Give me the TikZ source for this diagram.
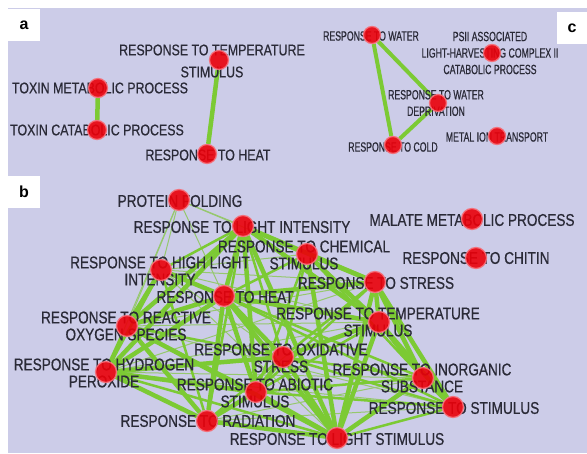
\documentclass[tikz,border=0pt]{standalone}
\usepackage{fontspec}
\setmainfont{Liberation Sans}
\newfontfamily\lblfont[FakeStretch=0.8,FakeBold=0.6]{Liberation Sans}
\newfontfamily\smlfont[FakeStretch=0.65,FakeBold=0.6]{Liberation Sans}
\usetikzlibrary{positioning}
\definecolor{bgcol}{RGB}{204,204,232}
\definecolor{edgecol}{RGB}{124,202,52}
\definecolor{thincol}{RGB}{150,200,110}
\definecolor{dotred}{RGB}{235,0,10}
\definecolor{dotring}{RGB}{246,110,120}
\definecolor{txtcol}{RGB}{42,42,55}
\pgfdeclarelayer{back}
\pgfdeclarelayer{bg}
\pgfsetlayers{back,bg,main}

\begin{document}
\begin{tikzpicture}[
        x=1pt, y=-1pt,
        dot/.style = {circle, fill=dotred, draw=dotring, line width=1.3pt, minimum size=#1, inner sep=0pt, opacity=0.9},
        lbla/.style = {font=\lblfont\fontsize{15.5}{22}\selectfont, text=txtcol, align=center, inner sep=0pt},
        lblb/.style = {font=\lblfont\fontsize{17}{17}\selectfont, text=txtcol, align=center, inner sep=0pt},
        lblc/.style = {font=\smlfont\fontsize{13.4}{16.5}\selectfont, text=txtcol, align=center, inner sep=0pt},
        tag/.style = {fill=white, font=\bfseries\fontsize{16}{16}\selectfont, minimum width=32, minimum height=32, inner sep=0pt},
        heavy/.style = {draw=edgecol, line width=4.5},
        medium/.style = {draw=edgecol, line width=2.5},
        light/.style = {draw=thincol, line width=1}
        ]
        \begin{pgfonlayer}{back}
            \fill[white] (0,0) rectangle (587,453);
            \fill[bgcol] (8,8) rectangle (587,453);
        \end{pgfonlayer}

        % panel labels
        \node[tag] (tagA) at (24,25) {a};
        \node[tag] (tagB) at (24,192) {b};
        \node[tag, minimum width=30] (tagC) at (572,28) {c};

        % a
        \node[lbla] (toxMet-t) at (100,88) {TOXIN METABOLIC PROCESS};
        \node[lbla] (toxCat-t) at (97,130) {TOXIN CATABOLIC PROCESS};
        \node[lbla] (tempA-t) at (212,61) {RESPONSE TO TEMPERATURE\\STIMULUS};
        \node[lbla] (heatA-t) at (208,155) {RESPONSE TO HEAT};
        \node[dot=19] (toxMet) at (98,88) {};
        \node[dot=19] (toxCat) at (97,130) {};
        \node[dot=19] (tempA) at (219,60) {};
        \node[dot=19] (heatA) at (207,154) {};

        % c
        \node[lblc] (water-t) at (371,36) {RESPONSE TO WATER};
        \node[lblc] (psii-t) at (490,53) {PSII ASSOCIATED\\LIGHT-HARVESTING COMPLEX II\\CATABOLIC PROCESS};
        \node[lblc] (waterDep-t) at (436,103) {RESPONSE TO WATER\\DEPRIVATION};
        \node[lblc] (cold-t) at (393,147) {RESPONSE TO COLD};
        \node[lblc] (metalIon-t) at (497,137) {METAL ION TRANSPORT};
        \node[dot=17] (water) at (372,35) {};
        \node[dot=17] (psii) at (492,53) {};
        \node[dot=17] (waterDep) at (438,103) {};
        \node[dot=17] (cold) at (393,145) {};
        \node[dot=17] (metalIon) at (497,136) {};

        % b
        \node[lblb] (folding-t) at (180,201) {PROTEIN FOLDING};
        \node[lblb] (lightInt-t) at (242,227) {RESPONSE TO LIGHT INTENSITY};
        \node[lblb] (chemical-t) at (304,255) {RESPONSE TO CHEMICAL\\STIMULUS};
        \node[lblb] (highLight-t) at (160,271) {RESPONSE TO HIGH LIGHT\\INTENSITY};
        \node[lblb] (heat-t) at (225,297) {RESPONSE TO HEAT};
        \node[lblb] (stress-t) at (376,283) {RESPONSE TO STRESS};
        \node[lblb] (malate-t) at (472,220) {MALATE METABOLIC PROCESS};
        \node[lblb] (chitin-t) at (476,258) {RESPONSE TO CHITIN};
        \node[lblb] (ros-t) at (126,326) {RESPONSE TO REACTIVE\\OXYGEN SPECIES};
        \node[lblb] (temp-t) at (378,322) {RESPONSE TO TEMPERATURE\\STIMULUS};
        \node[lblb] (oxidative-t) at (281,358) {RESPONSE TO OXIDATIVE\\STRESS};
        \node[lblb] (peroxide-t) at (104,373) {RESPONSE TO HYDROGEN\\PEROXIDE};
        \node[lblb] (inorganic-t) at (422,378) {RESPONSE TO INORGANIC\\SUBSTANCE};
        \node[lblb] (abiotic-t) at (255,393) {RESPONSE TO ABIOTIC\\STIMULUS};
        \node[lblb] (stimulus-t) at (454,408) {RESPONSE TO STIMULUS};
        \node[lblb] (radiation-t) at (208,421) {RESPONSE TO RADIATION};
        \node[lblb] (lightStim-t) at (337,439) {RESPONSE TO LIGHT STIMULUS};
        \node[dot=21] (folding) at (179,200) {};
        \node[dot=21] (lightInt) at (243,226) {};
        \node[dot=21] (chemical) at (307,254) {};
        \node[dot=21] (highLight) at (161,270) {};
        \node[dot=21] (heat) at (224,296) {};
        \node[dot=21] (stress) at (375,282) {};
        \node[dot=21] (malate) at (472,219) {};
        \node[dot=21] (chitin) at (476,258) {};
        \node[dot=21] (ros) at (127,326) {};
        \node[dot=21] (temp) at (379,322) {};
        \node[dot=21] (oxidative) at (283,357) {};
        \node[dot=21] (peroxide) at (106,372) {};
        \node[dot=21] (inorganic) at (423,378) {};
        \node[dot=21] (abiotic) at (256,392) {};
        \node[dot=21] (stimulus) at (453,407) {};
        \node[dot=21] (radiation) at (207,421) {};
        \node[dot=21] (lightStim) at (337,438) {};

        \begin{pgfonlayer}{bg}
            \draw[heavy] (toxMet) -- (toxCat);
            \draw[heavy] (tempA) -- (heatA);
            \draw[medium, line width=4] (water) -- (waterDep);
            \draw[medium, line width=4] (water) -- (cold);
            \draw[medium, line width=4] (waterDep) -- (cold);

            \foreach \s/\t in {folding/lightInt, folding/highLight, folding/heat, folding/ros,
                    folding/peroxide, folding/chemical, highLight/chemical, highLight/stress,
                    highLight/temp, highLight/lightStim, highLight/oxidative, ros/stress,
                    ros/temp, peroxide/stimulus, radiation/stimulus, radiation/inorganic,
                    peroxide/inorganic, ros/stimulus, peroxide/temp, radiation/temp,
                    radiation/stress, peroxide/stress}
                \draw[light] (\s) -- (\t);
            \foreach \s/\t in {lightInt/highLight, lightInt/oxidative, lightInt/radiation,
                    highLight/peroxide, highLight/radiation, chemical/heat, chemical/oxidative,
                    chemical/abiotic, chemical/inorganic, stress/oxidative, stress/abiotic,
                    temp/abiotic, ros/oxidative, ros/abiotic, peroxide/lightStim,
                    oxidative/radiation, oxidative/inorganic, oxidative/stimulus,
                    abiotic/inorganic, abiotic/stimulus, lightStim/stimulus, heat/stimulus,
                    heat/inorganic}
                \draw[medium] (\s) -- (\t);
            \foreach \s/\t in {lightInt/heat, lightInt/ros, lightInt/peroxide, lightInt/chemical,
                    lightInt/stress, lightInt/temp, lightInt/abiotic, lightInt/lightStim,
                    highLight/ros, highLight/heat, heat/ros, heat/peroxide, heat/stress,
                    heat/temp, heat/oxidative, heat/abiotic, heat/radiation, heat/lightStim,
                    chemical/stress, chemical/temp, chemical/lightStim, stress/temp,
                    stress/stimulus, stress/inorganic, stress/lightStim, temp/inorganic,
                    temp/stimulus, temp/lightStim, temp/oxidative, ros/peroxide,
                    ros/radiation, ros/lightStim, peroxide/abiotic, peroxide/radiation,
                    peroxide/oxidative, oxidative/abiotic, oxidative/lightStim,
                    abiotic/radiation, abiotic/lightStim, radiation/lightStim,
                    inorganic/stimulus, lightStim/inorganic}
                \draw[heavy] (\s) -- (\t);
        \end{pgfonlayer}
    \end{tikzpicture}
\end{document}
